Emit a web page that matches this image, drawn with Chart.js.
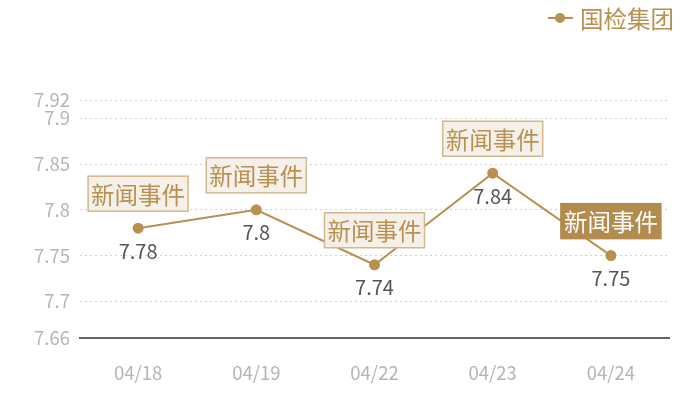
<!DOCTYPE html>
<html>
<head>
<meta charset="utf-8">
<script src="https://cdn.jsdelivr.net/npm/chart.js@4.4.0/dist/chart.umd.min.js"></script>
<style>
  html, body { margin: 0; padding: 0; background: #fff; }
  #wrap { width: 700px; height: 400px; }
</style>
</head>
<body>
<div id="wrap"><canvas id="myChart"></canvas></div>
<script>
const labels = ['04/18', '04/19', '04/22', '04/23', '04/24'];
const prices = [7.78, 7.8, 7.74, 7.84, 7.75];
const yTicks = [7.66, 7.7, 7.75, 7.8, 7.85, 7.9, 7.92];
const newsText = '新闻事件';
const newsActive = [false, false, false, false, true];

const gold = '#b8904f';
const cjk = '"Noto Sans CJK SC", "Noto Sans", sans-serif';

// news boxes, value labels and the legend
const overlay = {
  id: 'overlay',
  afterDatasetsDraw(chart) {
    const ctx = chart.ctx;
    const meta = chart.getDatasetMeta(0);
    ctx.save();
    ctx.textAlign = 'center';
    ctx.textBaseline = 'middle';
    meta.data.forEach((pt, i) => {
      // value under the point
      ctx.font = '20px ' + cjk;
      ctx.fillStyle = '#555';
      ctx.fillText(String(prices[i]), pt.x, pt.y + 23);

      // news box above the point
      ctx.font = '23.5px ' + cjk;
      const w = ctx.measureText(newsText).width + 6;
      const h = 35;
      const bx = pt.x - w / 2;
      const by = pt.y - 17 - h;
      ctx.fillStyle = newsActive[i] ? '#b38b4d' : 'rgba(244,240,233,0.95)';
      ctx.fillRect(bx, by, w, h);
      ctx.strokeStyle = newsActive[i] ? '#b38b4d' : '#d2b88c';
      ctx.lineWidth = 1.5;
      ctx.strokeRect(bx, by, w, h);
      ctx.fillStyle = newsActive[i] ? '#fff' : gold;
      ctx.fillText(newsText, pt.x, by + h / 2 + 1);
    });

    // legend
    const lx = 548, ly = 18;
    ctx.strokeStyle = gold;
    ctx.lineWidth = 2;
    ctx.beginPath();
    ctx.moveTo(lx, ly);
    ctx.lineTo(lx + 25, ly);
    ctx.stroke();
    ctx.fillStyle = gold;
    ctx.beginPath();
    ctx.arc(lx + 12, ly, 5, 0, Math.PI * 2);
    ctx.fill();
    ctx.font = '23.5px ' + cjk;
    ctx.textAlign = 'left';
    ctx.fillText(chart.data.datasets[0].label, lx + 32, ly + 1);
    ctx.restore();
  }
};

new Chart(document.getElementById('myChart'), {
  type: 'line',
  data: {
    labels: labels,
    datasets: [{
      label: '国检集团',
      data: prices,
      borderColor: gold,
      backgroundColor: gold,
      borderWidth: 2,
      pointRadius: 4.5,
      pointHoverRadius: 4.5,
      tension: 0
    }]
  },
  options: {
    responsive: true,
    maintainAspectRatio: false,
    animation: false,
    layout: { padding: { top: 100, right: 30, left: 0, bottom: 0 } },
    plugins: {
      legend: { display: false },
      tooltip: { enabled: false }
    },
    scales: {
      x: {
        offset: true,
        grid: { display: false, drawTicks: false },
        border: { display: false },
        ticks: { color: '#b5b5b5', font: { size: 18.5, family: cjk }, padding: 24 },
        afterFit(scale) { scale.height = 62; }
      },
      y: {
        min: 7.66,
        max: 7.92,
        afterBuildTicks(scale) { scale.ticks = yTicks.map(v => ({ value: v })); },
        grid: { color: '#cfcfcf', drawTicks: false },
        border: { display: true, color: '#fff', dash: [2, 3] },
        ticks: {
          color: '#b5b5b5',
          font: { size: 18.5, family: cjk },
          padding: 9,
          callback: v => String(v)
        },
        afterFit(scale) { scale.width = 79; }
      }
    }
  },
  plugins: [overlay, {
    id: 'baseAxis',
    afterDatasetsDraw(chart) {
      const a = chart.chartArea, ctx = chart.ctx;
      ctx.save();
      ctx.strokeStyle = '#333';
      ctx.lineWidth = 1.5;
      ctx.beginPath();
      ctx.moveTo(a.left, a.bottom);
      ctx.lineTo(a.right, a.bottom);
      ctx.stroke();
      ctx.restore();
    }
  }]
});
</script>
</body>
</html>
